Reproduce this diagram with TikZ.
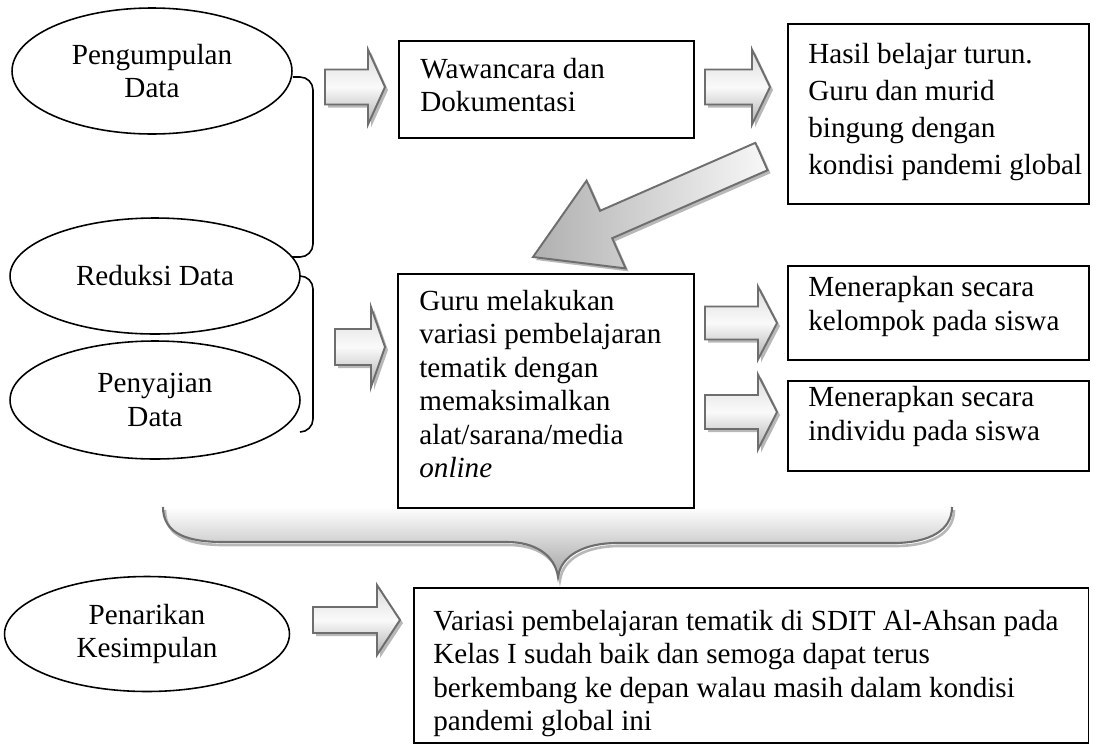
\documentclass[tikz,border=0pt]{standalone}
\usepackage{fontspec}
\setmainfont{Liberation Serif}
\usetikzlibrary{shapes.geometric,calc}
\definecolor{aline}{HTML}{6E6E6E}
\definecolor{ashadow}{HTML}{B8B8B8}
\begin{document}
\begin{tikzpicture}[x=0.02cm,y=-0.02cm,
  every node/.style={font=\fontsize{16.6}{19}\selectfont},
  ell/.style={ellipse, draw, line width=0.9pt, inner sep=0pt, align=center},
  box/.style={draw, line width=0.9pt, anchor=north west, inner sep=0pt},
  txt/.style={anchor=north west, align=left, inner sep=0pt},
  bracket/.style={draw, line width=0.9pt, rounded corners=0.26cm},
  abody/.style={draw=aline, line width=1.1pt, top color=gray!28, bottom color=gray!62, middle color=gray!4},
  ashad/.style={fill=ashadow},
  pics/barrow/.style args={#1/#2/#3/#4}{code={
    \path[ashad] (3,-#2+3) -- (#1-#4+3,-#2+3) -- (#1-#4+3,-#3+3) -- (#1+3,3) -- (#1-#4+3,#3+3) -- (#1-#4+3,#2+3) -- (3,#2+3) -- cycle;
    \path[abody] (0,-#2) -- (#1-#4,-#2) -- (#1-#4,-#3) -- (#1,0) -- (#1-#4,#3) -- (#1-#4,#2) -- (0,#2) -- cycle;
  }}
]
\useasboundingbox (0,0) rectangle (1099,748);

% big brace (behind everything)
\path[top color=white, bottom color=gray!72] (163,507) .. controls (163,535) and (190,542) .. (223,542) -- (507,542) .. controls (535,542) and (555,555) .. (558,577) .. controls (561,555) and (585,543) .. (617,543) -- (893,543) .. controls (930,543) and (952,530) .. (952,507) -- cycle;
\draw[ashadow, line width=1.5pt] (165,510) .. controls (165,538) and (192,545) .. (225,545) -- (509,545) .. controls (537,545) and (557,558) .. (560,580) .. controls (563,558) and (587,546) .. (619,546) -- (895,546) .. controls (932,546) and (954,533) .. (954,510);
\draw[aline, line width=1.2pt] (163,507) .. controls (163,535) and (190,542) .. (223,542) -- (507,542) .. controls (535,542) and (555,555) .. (558,577) .. controls (561,555) and (585,543) .. (617,543) -- (893,543) .. controls (930,543) and (952,530) .. (952,507);

% ellipses
\node[ell, minimum width=5.6cm, minimum height=2.52cm] (peng) at (152,71) {Pengumpulan\\Data};
\node[ell, minimum width=5.8cm, minimum height=2.32cm] (redu) at (155,276) {Reduksi Data};
\node[ell, minimum width=5.8cm, minimum height=2.36cm] (peny) at (155,400) {Penyajian\\Data};
\node[ell, minimum width=5.7cm, minimum height=2.3cm] (pena) at (147,634) {Penarikan\\Kesimpulan};

% brackets
\coordinate (b1e) at (292,257);
\coordinate (b2e) at (300,432);
\draw[bracket] ($(peng.east)+(0,6)$) -| (313,257) -- (b1e);
\draw[bracket] (redu.east) -| (313,432) -- (b2e);

% boxes
\node[box, minimum width=5.9cm, minimum height=1.94cm] (ww) at (398,40) {};
\node[box, minimum width=6.02cm, minimum height=3.6cm] (hs) at (787,23) {};
\node[box, minimum width=5.92cm, minimum height=4.68cm] (gr) at (397,273) {};
\node[box, minimum width=6.02cm, minimum height=1.88cm] (kl) at (787,265) {};
\node[box, minimum width=6.02cm, minimum height=1.8cm] (iv) at (787,380) {};
\node[box, minimum width=13.5cm, minimum height=3.1cm] (bt) at (413,587) {};

% texts
\node[txt] (wwt) at ($(ww.north west)+(22,18)$) {Wawancara dan\\Dokumentasi};
\node[txt, font=\fontsize{16.6}{21.1}\selectfont] (hst) at ($(hs.north west)+(21,20)$) {Hasil belajar turun.\\Guru dan murid\\bingung dengan\\kondisi pandemi global};
\node[txt] (grt) at ($(gr.north west)+(22,17)$) {Guru melakukan\\variasi pembelajaran\\tematik dengan\\memaksimalkan\\alat/sarana/media\\\textit{online}};
\node[txt, font=\fontsize{16.6}{19.3}\selectfont] (klt) at ($(kl.north west)+(21,11)$) {Menerapkan secara\\kelompok pada siswa};
\node[txt, font=\fontsize{16.6}{19.3}\selectfont] (ivt) at ($(iv.north west)+(21,6)$) {Menerapkan secara\\individu pada siswa};
\node[txt] (btt) at ($(bt.north west)+(20,23)$) {Variasi pembelajaran tematik di SDIT Al-Ahsan pada\\Kelas I sudah baik dan semoga dapat terus\\berkembang ke depan walau masih dalam kondisi\\pandemi global ini};

% block arrows
\pic (a1) at (325,87) {barrow=60/17.5/37.5/17};
\pic (a2) at (705,87) {barrow=65/17.5/37.5/18};
\pic (a3) at (335,347) {barrow=50/18/40/14};
\pic (a4) at (705,323) {barrow=72/16.5/36.5/19};
\pic (a5) at (705,412) {barrow=72/17/37.5/19};
\pic (a6) at (313,620) {barrow=87/13/35/23};

% diagonal arrow
\path[ashad] (758.4,145.8) -- (603.0,213.8) -- (589.6,183.6) -- (536,260) -- (628.6,271.4) -- (615.2,241.2) -- (770.6,173.2) -- cycle;
\path[draw=aline, line width=1.1pt, left color=gray!62, right color=gray!6] (755.4,142.8) -- (600.0,210.8) -- (586.6,180.6) -- (533,257) -- (625.6,268.4) -- (612.2,238.2) -- (767.6,170.2) -- cycle;
\end{tikzpicture}
\end{document}
